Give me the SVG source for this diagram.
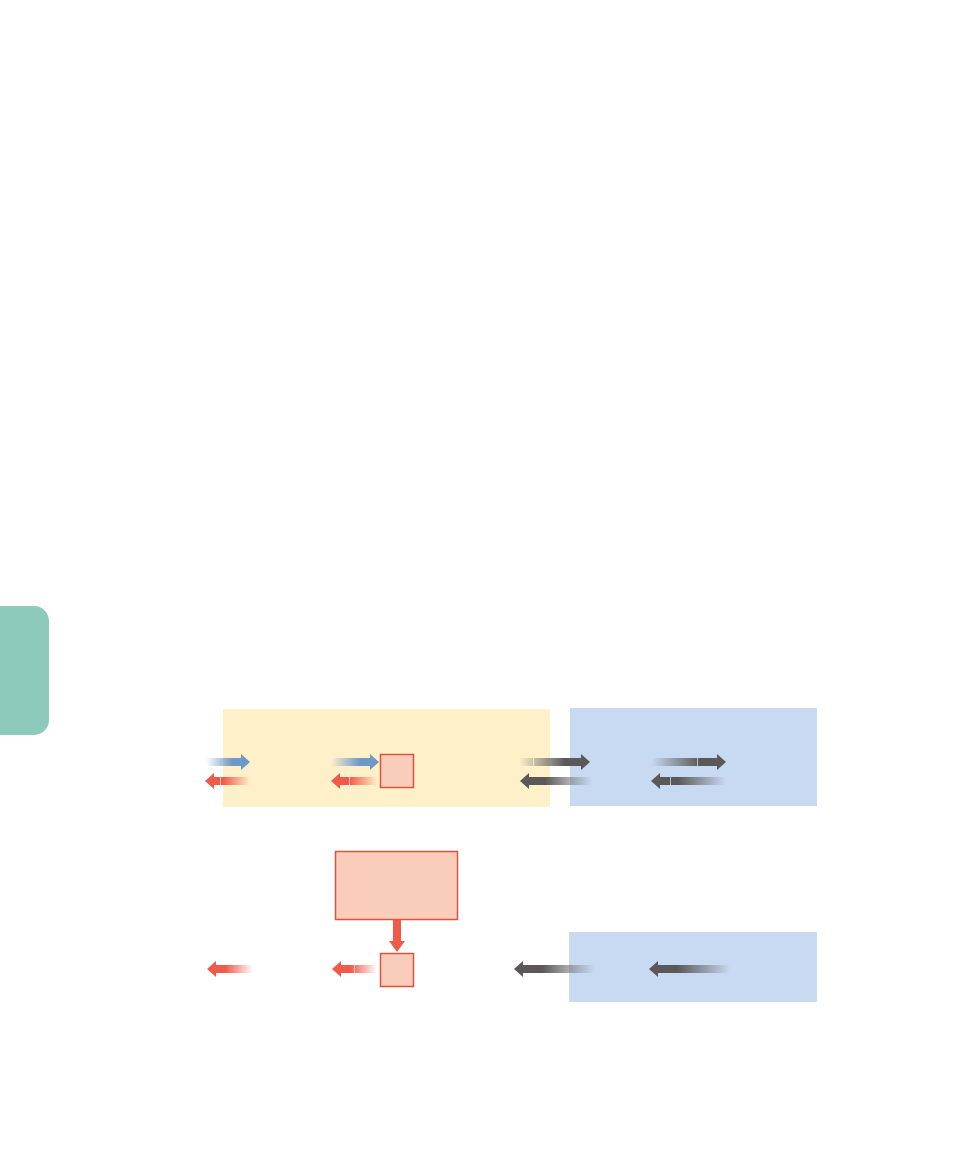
<svg xmlns="http://www.w3.org/2000/svg" width="972" height="1175" viewBox="0 0 972 1175">
<style>
.tab{fill:#8DCABB}
.yel{fill:#FEF0C8}
.blu{fill:#C8DAF2}
.box{fill:#FACDBB;stroke:#D9533F;stroke-width:1.5}
.sep{fill:#FFFFFF;opacity:0.6}
</style>
<defs>
<linearGradient id="bR" x1="0" y1="0" x2="1" y2="0"><stop offset="0" stop-color="#6E98C8" stop-opacity="0"/><stop offset="0.6" stop-color="#6E98C8"/><stop offset="1" stop-color="#6E98C8"/></linearGradient>
<linearGradient id="rL" x1="1" y1="0" x2="0" y2="0"><stop offset="0" stop-color="#F05A48" stop-opacity="0"/><stop offset="0.6" stop-color="#F05A48"/><stop offset="1" stop-color="#F05A48"/></linearGradient>
<linearGradient id="gR" x1="0" y1="0" x2="1" y2="0"><stop offset="0" stop-color="#5A5858" stop-opacity="0"/><stop offset="0.65" stop-color="#5A5858"/><stop offset="1" stop-color="#5A5858"/></linearGradient>
<linearGradient id="gL" x1="1" y1="0" x2="0" y2="0"><stop offset="0" stop-color="#5A5858" stop-opacity="0"/><stop offset="0.65" stop-color="#5A5858"/><stop offset="1" stop-color="#5A5858"/></linearGradient>
</defs>
<path id="tab" class="tab" d="M0,606 H34 A15,15 0 0 1 49,621 V720 A15,15 0 0 1 34,735 H0 Z"/>
<g id="region-yellow"><rect class="yel" x="223" y="709" width="327" height="98"/></g>
<g id="region-blue-top"><rect class="blu" x="570" y="708" width="247" height="98"/></g>
<g id="region-blue-bottom"><rect class="blu" x="569" y="932" width="248" height="70"/></g>
<g id="box-top"><rect class="box" x="380.5" y="754.5" width="33" height="33"/></g>
<g id="box-big"><rect class="box" x="335.5" y="851.5" width="122" height="68"/></g>
<g id="box-bottom"><rect class="box" x="380.5" y="953.5" width="33" height="33"/></g>
<g id="connectors">
<polygon fill="url(#bR)" points="206,758 241,758 241,754 250,762 241,770 241,766 206,766"/>
<polygon fill="url(#rL)" points="250,777 214,777 214,773 205,781 214,789 214,785 250,785"/>
<rect class="sep" x="220" y="777" width="1" height="8"/>
<polygon fill="url(#bR)" points="331,758 370,758 370,754 379,762 370,770 370,766 331,766"/>
<polygon fill="url(#rL)" points="377,777 340,777 340,773 331,781 340,789 340,785 377,785"/>
<rect class="sep" x="349" y="777" width="1" height="8"/>
<polygon fill="url(#gR)" points="519,758 581,758 581,754 590,762 581,770 581,766 519,766"/>
<rect class="sep" x="533" y="758" width="1" height="8"/>
<polygon fill="url(#gL)" points="592,777 529,777 529,773 520,781 529,789 529,785 592,785"/>
<polygon fill="url(#gR)" points="651,758 717,758 717,754 726,762 717,770 717,766 651,766"/>
<rect class="sep" x="697" y="758" width="1" height="8"/>
<polygon fill="url(#gL)" points="726,777 660,777 660,773 651,781 660,789 660,785 726,785"/>
<rect class="sep" x="670" y="777" width="1" height="8"/>
<polygon fill="#F05A48" points="393,919.5 401,919.5 401,941 405,941 397,952 389,941 393,941"/>
<polygon fill="url(#rL)" points="253,965 216,965 216,961 207,969 216,977 216,973 253,973"/>
<polygon fill="url(#rL)" points="377,965 341,965 341,961 332,969 341,977 341,973 377,973"/>
<rect class="sep" x="354" y="965" width="1" height="8"/>
<polygon fill="url(#gL)" points="595,965 523,965 523,961 514,969 523,977 523,973 595,973"/>
<polygon fill="url(#gL)" points="730,965 658,965 658,961 649,969 658,977 658,973 730,973"/>
</g>
</svg>
